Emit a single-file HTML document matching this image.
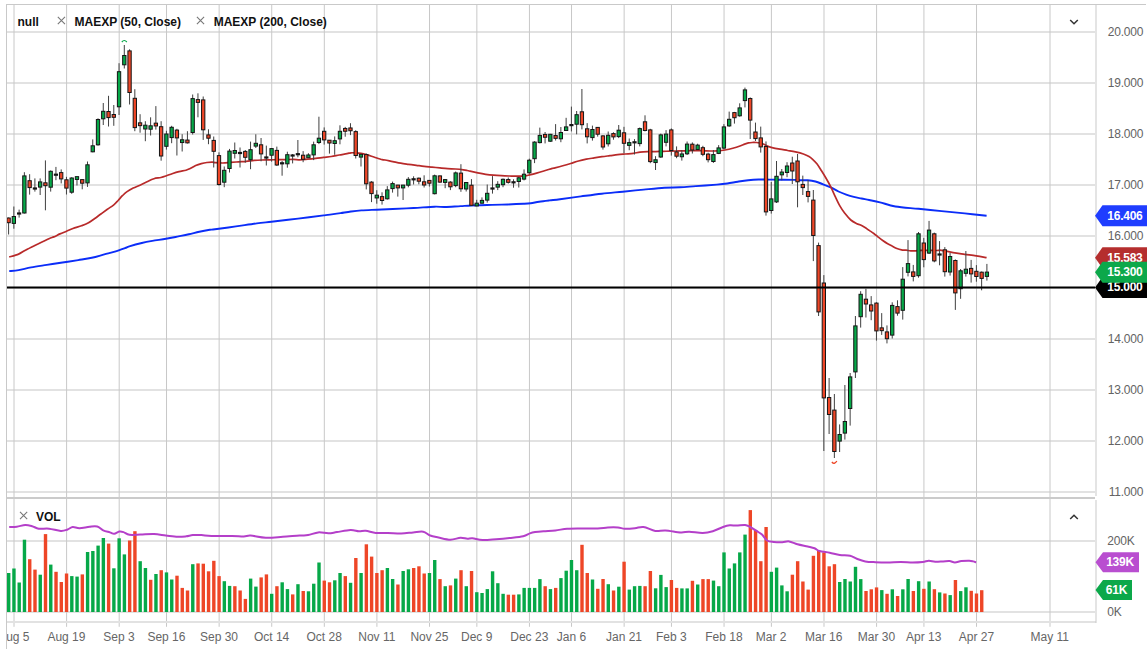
<!DOCTYPE html><html><head><meta charset="utf-8"><style>html,body{margin:0;padding:0;background:#fff;overflow:hidden}svg{display:block}</style></head><body><svg width="1148" height="650" viewBox="0 0 1148 650" shape-rendering="auto"><defs><clipPath id="pc"><rect x="7" y="5" width="1088" height="488"/></clipPath><clipPath id="vc"><rect x="7" y="499" width="1088" height="113"/></clipPath><clipPath id="xc"><rect x="7" y="622" width="1088" height="28"/></clipPath></defs><rect x="7" y="31" width="1088" height="2" fill="#e2e2e2"/><rect x="7" y="82" width="1088" height="2" fill="#e2e2e2"/><rect x="7" y="133" width="1088" height="2" fill="#e2e2e2"/><rect x="7" y="184" width="1088" height="2" fill="#e2e2e2"/><rect x="7" y="235" width="1088" height="2" fill="#e2e2e2"/><rect x="7" y="287" width="1088" height="2" fill="#e2e2e2"/><rect x="7" y="338" width="1088" height="2" fill="#e2e2e2"/><rect x="7" y="389" width="1088" height="2" fill="#e2e2e2"/><rect x="7" y="440" width="1088" height="2" fill="#e2e2e2"/><rect x="7" y="491" width="1088" height="2" fill="#e2e2e2"/><rect x="7" y="540" width="1088" height="2" fill="#e2e2e2"/><rect x="7" y="611" width="1088" height="2" fill="#e2e2e2"/><line x1="14.00" x2="14.00" y1="5" y2="626.8" stroke="#c8c8c8" stroke-width="1"/><line x1="66.60" x2="66.60" y1="5" y2="626.8" stroke="#c8c8c8" stroke-width="1"/><line x1="119.19" x2="119.19" y1="5" y2="626.8" stroke="#c8c8c8" stroke-width="1"/><line x1="166.53" x2="166.53" y1="5" y2="626.8" stroke="#c8c8c8" stroke-width="1"/><line x1="219.13" x2="219.13" y1="5" y2="626.8" stroke="#c8c8c8" stroke-width="1"/><line x1="271.73" x2="271.73" y1="5" y2="626.8" stroke="#c8c8c8" stroke-width="1"/><line x1="324.32" x2="324.32" y1="5" y2="626.8" stroke="#c8c8c8" stroke-width="1"/><line x1="376.92" x2="376.92" y1="5" y2="626.8" stroke="#c8c8c8" stroke-width="1"/><line x1="429.52" x2="429.52" y1="5" y2="626.8" stroke="#c8c8c8" stroke-width="1"/><line x1="476.85" x2="476.85" y1="5" y2="626.8" stroke="#c8c8c8" stroke-width="1"/><line x1="529.45" x2="529.45" y1="5" y2="626.8" stroke="#c8c8c8" stroke-width="1"/><line x1="571.53" x2="571.53" y1="5" y2="626.8" stroke="#c8c8c8" stroke-width="1"/><line x1="624.13" x2="624.13" y1="5" y2="626.8" stroke="#c8c8c8" stroke-width="1"/><line x1="671.46" x2="671.46" y1="5" y2="626.8" stroke="#c8c8c8" stroke-width="1"/><line x1="724.06" x2="724.06" y1="5" y2="626.8" stroke="#c8c8c8" stroke-width="1"/><line x1="771.40" x2="771.40" y1="5" y2="626.8" stroke="#c8c8c8" stroke-width="1"/><line x1="823.99" x2="823.99" y1="5" y2="626.8" stroke="#c8c8c8" stroke-width="1"/><line x1="876.59" x2="876.59" y1="5" y2="626.8" stroke="#c8c8c8" stroke-width="1"/><line x1="923.93" x2="923.93" y1="5" y2="626.8" stroke="#c8c8c8" stroke-width="1"/><line x1="976.53" x2="976.53" y1="5" y2="626.8" stroke="#c8c8c8" stroke-width="1"/><line x1="1050.00" x2="1050.00" y1="5" y2="626.8" stroke="#c8c8c8" stroke-width="1"/><rect x="7" y="497" width="1088" height="2" fill="#cbcbcb"/><rect x="7" y="621" width="1089" height="2" fill="#e2e2e2"/><rect x="6" y="4" width="1140" height="1" fill="#c9c9c9"/><rect x="6" y="4" width="1" height="645" fill="#c9c9c9"/><line x1="1096" x2="1096" y1="5" y2="496" stroke="#c9c9c9" stroke-width="1"/><line x1="1096" x2="1096" y1="500" y2="623" stroke="#c9c9c9" stroke-width="1"/><g clip-path="url(#vc)"><rect x="6.99" y="573.0" width="3.4" height="39.0" fill="#06a848"/><rect x="12.25" y="568.5" width="3.4" height="43.5" fill="#06a848"/><rect x="17.51" y="582.5" width="3.4" height="29.5" fill="#06a848"/><rect x="22.77" y="539.7" width="3.4" height="72.3" fill="#06a848"/><rect x="28.03" y="559.2" width="3.4" height="52.8" fill="#ee4627"/><rect x="33.29" y="569.6" width="3.4" height="42.4" fill="#ee4627"/><rect x="38.55" y="574.7" width="3.4" height="37.3" fill="#06a848"/><rect x="43.81" y="534.1" width="3.4" height="77.9" fill="#ee4627"/><rect x="49.07" y="564.6" width="3.4" height="47.4" fill="#06a848"/><rect x="54.33" y="571.8" width="3.4" height="40.2" fill="#ee4627"/><rect x="59.59" y="582.0" width="3.4" height="30.0" fill="#ee4627"/><rect x="64.85" y="573.5" width="3.4" height="38.5" fill="#ee4627"/><rect x="70.11" y="576.1" width="3.4" height="35.9" fill="#06a848"/><rect x="75.37" y="576.6" width="3.4" height="35.4" fill="#06a848"/><rect x="80.63" y="574.4" width="3.4" height="37.6" fill="#ee4627"/><rect x="85.89" y="552.0" width="3.4" height="60.0" fill="#06a848"/><rect x="91.15" y="551.0" width="3.4" height="61.0" fill="#06a848"/><rect x="96.41" y="545.6" width="3.4" height="66.4" fill="#06a848"/><rect x="101.66" y="538.0" width="3.4" height="74.0" fill="#06a848"/><rect x="106.92" y="543.6" width="3.4" height="68.4" fill="#ee4627"/><rect x="112.18" y="568.3" width="3.4" height="43.7" fill="#06a848"/><rect x="117.44" y="538.3" width="3.4" height="73.7" fill="#06a848"/><rect x="122.70" y="554.4" width="3.4" height="57.6" fill="#06a848"/><rect x="127.96" y="540.5" width="3.4" height="71.5" fill="#ee4627"/><rect x="133.22" y="531.2" width="3.4" height="80.8" fill="#ee4627"/><rect x="138.48" y="561.2" width="3.4" height="50.8" fill="#06a848"/><rect x="143.74" y="568.0" width="3.4" height="44.0" fill="#06a848"/><rect x="149.00" y="579.8" width="3.4" height="32.2" fill="#ee4627"/><rect x="154.26" y="574.0" width="3.4" height="38.0" fill="#06a848"/><rect x="159.52" y="570.2" width="3.4" height="41.8" fill="#ee4627"/><rect x="164.78" y="572.4" width="3.4" height="39.6" fill="#06a848"/><rect x="170.04" y="579.5" width="3.4" height="32.5" fill="#06a848"/><rect x="175.30" y="575.7" width="3.4" height="36.3" fill="#ee4627"/><rect x="180.56" y="587.9" width="3.4" height="24.1" fill="#ee4627"/><rect x="185.82" y="590.5" width="3.4" height="21.5" fill="#ee4627"/><rect x="191.08" y="564.2" width="3.4" height="47.8" fill="#06a848"/><rect x="196.34" y="563.4" width="3.4" height="48.6" fill="#ee4627"/><rect x="201.60" y="563.7" width="3.4" height="48.3" fill="#ee4627"/><rect x="206.86" y="571.3" width="3.4" height="40.7" fill="#ee4627"/><rect x="212.12" y="560.8" width="3.4" height="51.2" fill="#ee4627"/><rect x="217.38" y="576.1" width="3.4" height="35.9" fill="#ee4627"/><rect x="222.64" y="581.2" width="3.4" height="30.8" fill="#06a848"/><rect x="227.90" y="585.9" width="3.4" height="26.1" fill="#06a848"/><rect x="233.16" y="586.2" width="3.4" height="25.8" fill="#ee4627"/><rect x="238.42" y="590.5" width="3.4" height="21.5" fill="#ee4627"/><rect x="243.68" y="598.9" width="3.4" height="13.1" fill="#ee4627"/><rect x="248.94" y="578.6" width="3.4" height="33.4" fill="#06a848"/><rect x="254.20" y="586.6" width="3.4" height="25.4" fill="#06a848"/><rect x="259.46" y="577.4" width="3.4" height="34.6" fill="#ee4627"/><rect x="264.72" y="574.4" width="3.4" height="37.6" fill="#ee4627"/><rect x="269.98" y="593.8" width="3.4" height="18.2" fill="#06a848"/><rect x="275.23" y="586.2" width="3.4" height="25.8" fill="#ee4627"/><rect x="280.49" y="582.3" width="3.4" height="29.7" fill="#06a848"/><rect x="285.75" y="589.1" width="3.4" height="22.9" fill="#06a848"/><rect x="291.01" y="594.4" width="3.4" height="17.6" fill="#ee4627"/><rect x="296.27" y="584.2" width="3.4" height="27.8" fill="#06a848"/><rect x="301.53" y="591.0" width="3.4" height="21.0" fill="#ee4627"/><rect x="306.79" y="591.3" width="3.4" height="20.7" fill="#06a848"/><rect x="312.05" y="583.7" width="3.4" height="28.3" fill="#06a848"/><rect x="317.31" y="562.5" width="3.4" height="49.5" fill="#06a848"/><rect x="322.57" y="580.6" width="3.4" height="31.4" fill="#ee4627"/><rect x="327.83" y="582.3" width="3.4" height="29.7" fill="#ee4627"/><rect x="333.09" y="580.3" width="3.4" height="31.7" fill="#06a848"/><rect x="338.35" y="573.0" width="3.4" height="39.0" fill="#06a848"/><rect x="343.61" y="576.1" width="3.4" height="35.9" fill="#ee4627"/><rect x="348.87" y="582.8" width="3.4" height="29.2" fill="#06a848"/><rect x="354.13" y="558.0" width="3.4" height="54.0" fill="#ee4627"/><rect x="359.39" y="573.0" width="3.4" height="39.0" fill="#06a848"/><rect x="364.65" y="544.3" width="3.4" height="67.7" fill="#ee4627"/><rect x="369.91" y="556.6" width="3.4" height="55.4" fill="#ee4627"/><rect x="375.17" y="573.0" width="3.4" height="39.0" fill="#ee4627"/><rect x="380.43" y="570.2" width="3.4" height="41.8" fill="#ee4627"/><rect x="385.69" y="568.0" width="3.4" height="44.0" fill="#06a848"/><rect x="390.95" y="579.0" width="3.4" height="33.0" fill="#06a848"/><rect x="396.21" y="584.5" width="3.4" height="27.5" fill="#ee4627"/><rect x="401.47" y="571.0" width="3.4" height="41.0" fill="#06a848"/><rect x="406.73" y="569.3" width="3.4" height="42.7" fill="#06a848"/><rect x="411.99" y="568.0" width="3.4" height="44.0" fill="#ee4627"/><rect x="417.25" y="566.3" width="3.4" height="45.7" fill="#ee4627"/><rect x="422.51" y="573.5" width="3.4" height="38.5" fill="#ee4627"/><rect x="427.77" y="573.0" width="3.4" height="39.0" fill="#06a848"/><rect x="433.03" y="560.0" width="3.4" height="52.0" fill="#06a848"/><rect x="438.29" y="579.1" width="3.4" height="32.9" fill="#ee4627"/><rect x="443.55" y="586.2" width="3.4" height="25.8" fill="#06a848"/><rect x="448.81" y="585.4" width="3.4" height="26.6" fill="#ee4627"/><rect x="454.06" y="578.6" width="3.4" height="33.4" fill="#06a848"/><rect x="459.32" y="570.2" width="3.4" height="41.8" fill="#ee4627"/><rect x="464.58" y="586.2" width="3.4" height="25.8" fill="#06a848"/><rect x="469.84" y="571.0" width="3.4" height="41.0" fill="#ee4627"/><rect x="475.10" y="592.2" width="3.4" height="19.8" fill="#06a848"/><rect x="480.36" y="593.0" width="3.4" height="19.0" fill="#06a848"/><rect x="485.62" y="589.1" width="3.4" height="22.9" fill="#06a848"/><rect x="490.88" y="571.3" width="3.4" height="40.7" fill="#06a848"/><rect x="496.14" y="583.2" width="3.4" height="28.8" fill="#06a848"/><rect x="501.40" y="593.8" width="3.4" height="18.2" fill="#06a848"/><rect x="506.66" y="594.7" width="3.4" height="17.3" fill="#ee4627"/><rect x="511.92" y="594.7" width="3.4" height="17.3" fill="#ee4627"/><rect x="517.18" y="594.4" width="3.4" height="17.6" fill="#06a848"/><rect x="522.44" y="587.9" width="3.4" height="24.1" fill="#06a848"/><rect x="527.70" y="587.9" width="3.4" height="24.1" fill="#06a848"/><rect x="532.96" y="587.9" width="3.4" height="24.1" fill="#06a848"/><rect x="538.22" y="579.1" width="3.4" height="32.9" fill="#06a848"/><rect x="543.48" y="586.2" width="3.4" height="25.8" fill="#ee4627"/><rect x="548.74" y="589.1" width="3.4" height="22.9" fill="#06a848"/><rect x="554.00" y="587.9" width="3.4" height="24.1" fill="#ee4627"/><rect x="559.26" y="578.1" width="3.4" height="33.9" fill="#06a848"/><rect x="564.52" y="570.7" width="3.4" height="41.3" fill="#06a848"/><rect x="569.78" y="560.0" width="3.4" height="52.0" fill="#06a848"/><rect x="575.04" y="570.2" width="3.4" height="41.8" fill="#06a848"/><rect x="580.30" y="544.8" width="3.4" height="67.2" fill="#ee4627"/><rect x="585.56" y="573.0" width="3.4" height="39.0" fill="#ee4627"/><rect x="590.82" y="579.5" width="3.4" height="32.5" fill="#06a848"/><rect x="596.08" y="588.8" width="3.4" height="23.2" fill="#ee4627"/><rect x="601.34" y="579.0" width="3.4" height="33.0" fill="#ee4627"/><rect x="606.60" y="584.2" width="3.4" height="27.8" fill="#06a848"/><rect x="611.86" y="590.5" width="3.4" height="21.5" fill="#ee4627"/><rect x="617.12" y="586.7" width="3.4" height="25.3" fill="#06a848"/><rect x="622.38" y="561.7" width="3.4" height="50.3" fill="#ee4627"/><rect x="627.63" y="589.6" width="3.4" height="22.4" fill="#06a848"/><rect x="632.89" y="586.2" width="3.4" height="25.8" fill="#06a848"/><rect x="638.15" y="585.9" width="3.4" height="26.1" fill="#06a848"/><rect x="643.41" y="586.2" width="3.4" height="25.8" fill="#ee4627"/><rect x="648.67" y="571.0" width="3.4" height="41.0" fill="#ee4627"/><rect x="653.93" y="588.3" width="3.4" height="23.7" fill="#06a848"/><rect x="659.19" y="574.9" width="3.4" height="37.1" fill="#06a848"/><rect x="664.45" y="587.1" width="3.4" height="24.9" fill="#06a848"/><rect x="669.71" y="580.0" width="3.4" height="32.0" fill="#ee4627"/><rect x="674.97" y="587.9" width="3.4" height="24.1" fill="#ee4627"/><rect x="680.23" y="588.4" width="3.4" height="23.6" fill="#06a848"/><rect x="685.49" y="588.4" width="3.4" height="23.6" fill="#06a848"/><rect x="690.75" y="580.8" width="3.4" height="31.2" fill="#ee4627"/><rect x="696.01" y="584.5" width="3.4" height="27.5" fill="#06a848"/><rect x="701.27" y="579.1" width="3.4" height="32.9" fill="#ee4627"/><rect x="706.53" y="579.1" width="3.4" height="32.9" fill="#ee4627"/><rect x="711.79" y="580.6" width="3.4" height="31.4" fill="#06a848"/><rect x="717.05" y="586.2" width="3.4" height="25.8" fill="#06a848"/><rect x="722.31" y="552.4" width="3.4" height="59.6" fill="#06a848"/><rect x="727.57" y="568.5" width="3.4" height="43.5" fill="#06a848"/><rect x="732.83" y="563.4" width="3.4" height="48.6" fill="#06a848"/><rect x="738.09" y="552.4" width="3.4" height="59.6" fill="#06a848"/><rect x="743.35" y="534.6" width="3.4" height="77.4" fill="#06a848"/><rect x="748.61" y="510.1" width="3.4" height="101.9" fill="#ee4627"/><rect x="753.87" y="530.0" width="3.4" height="82.0" fill="#ee4627"/><rect x="759.13" y="561.2" width="3.4" height="50.8" fill="#ee4627"/><rect x="764.39" y="527.0" width="3.4" height="85.0" fill="#ee4627"/><rect x="769.65" y="571.8" width="3.4" height="40.2" fill="#06a848"/><rect x="774.91" y="567.6" width="3.4" height="44.4" fill="#06a848"/><rect x="780.17" y="585.4" width="3.4" height="26.6" fill="#06a848"/><rect x="785.43" y="591.3" width="3.4" height="20.7" fill="#06a848"/><rect x="790.69" y="574.7" width="3.4" height="37.3" fill="#ee4627"/><rect x="795.95" y="561.2" width="3.4" height="50.8" fill="#ee4627"/><rect x="801.20" y="581.5" width="3.4" height="30.5" fill="#ee4627"/><rect x="806.46" y="589.6" width="3.4" height="22.4" fill="#ee4627"/><rect x="811.72" y="555.8" width="3.4" height="56.2" fill="#ee4627"/><rect x="816.98" y="551.0" width="3.4" height="61.0" fill="#ee4627"/><rect x="822.24" y="552.4" width="3.4" height="59.6" fill="#ee4627"/><rect x="827.50" y="566.3" width="3.4" height="45.7" fill="#ee4627"/><rect x="832.76" y="564.2" width="3.4" height="47.8" fill="#ee4627"/><rect x="838.02" y="582.0" width="3.4" height="30.0" fill="#06a848"/><rect x="843.28" y="579.0" width="3.4" height="33.0" fill="#06a848"/><rect x="848.54" y="581.5" width="3.4" height="30.5" fill="#06a848"/><rect x="853.80" y="566.8" width="3.4" height="45.2" fill="#06a848"/><rect x="859.06" y="579.1" width="3.4" height="32.9" fill="#06a848"/><rect x="864.32" y="591.0" width="3.4" height="21.0" fill="#ee4627"/><rect x="869.58" y="589.3" width="3.4" height="22.7" fill="#ee4627"/><rect x="874.84" y="587.4" width="3.4" height="24.6" fill="#ee4627"/><rect x="880.10" y="590.1" width="3.4" height="21.9" fill="#06a848"/><rect x="885.36" y="593.8" width="3.4" height="18.2" fill="#ee4627"/><rect x="890.62" y="589.3" width="3.4" height="22.7" fill="#06a848"/><rect x="895.88" y="596.0" width="3.4" height="16.0" fill="#ee4627"/><rect x="901.14" y="589.3" width="3.4" height="22.7" fill="#06a848"/><rect x="906.40" y="579.0" width="3.4" height="33.0" fill="#06a848"/><rect x="911.66" y="591.0" width="3.4" height="21.0" fill="#ee4627"/><rect x="916.92" y="581.2" width="3.4" height="30.8" fill="#06a848"/><rect x="922.18" y="588.8" width="3.4" height="23.2" fill="#ee4627"/><rect x="927.44" y="581.5" width="3.4" height="30.5" fill="#06a848"/><rect x="932.70" y="589.2" width="3.4" height="22.8" fill="#ee4627"/><rect x="937.96" y="592.4" width="3.4" height="19.6" fill="#06a848"/><rect x="943.22" y="593.5" width="3.4" height="18.5" fill="#ee4627"/><rect x="948.48" y="595.1" width="3.4" height="16.9" fill="#06a848"/><rect x="953.74" y="580.0" width="3.4" height="32.0" fill="#ee4627"/><rect x="959.00" y="591.1" width="3.4" height="20.9" fill="#06a848"/><rect x="964.26" y="587.3" width="3.4" height="24.7" fill="#06a848"/><rect x="969.52" y="590.8" width="3.4" height="21.2" fill="#ee4627"/><rect x="974.78" y="593.5" width="3.4" height="18.5" fill="#ee4627"/><rect x="980.03" y="590.2" width="3.4" height="21.8" fill="#ee4627"/><path d="M9.20,527.00 C10.47,526.95 14.12,527.03 16.80,526.70 C19.48,526.37 22.75,525.08 25.30,525.00 C27.85,524.92 29.85,525.58 32.10,526.20 C34.35,526.82 35.98,528.28 38.80,528.70 C41.62,529.12 45.33,528.33 49.00,528.70 C52.67,529.07 57.70,530.77 60.80,530.90 C63.90,531.03 65.62,530.15 67.60,529.50 C69.58,528.85 70.72,527.22 72.70,527.00 C74.68,526.78 76.68,528.25 79.50,528.20 C82.32,528.15 86.65,526.98 89.60,526.70 C92.55,526.42 94.93,525.88 97.20,526.50 C99.47,527.12 101.08,529.42 103.20,530.40 C105.32,531.38 108.07,531.83 109.90,532.40 C111.73,532.97 112.63,533.93 114.20,533.80 C115.77,533.67 117.75,531.88 119.30,531.60 C120.85,531.32 121.80,531.57 123.50,532.10 C125.20,532.63 126.67,534.38 129.50,534.80 C132.33,535.22 136.42,534.72 140.50,534.60 C144.58,534.48 149.78,533.95 154.00,534.10 C158.22,534.25 161.85,535.05 165.80,535.50 C169.75,535.95 174.30,536.67 177.70,536.80 C181.10,536.93 183.67,536.58 186.20,536.30 C188.73,536.02 190.37,535.30 192.90,535.10 C195.43,534.90 198.30,534.95 201.40,535.10 C204.50,535.25 206.42,535.85 211.50,536.00 C216.58,536.15 226.52,535.92 231.90,536.00 C237.28,536.08 240.70,536.57 243.80,536.50 C246.90,536.43 246.83,535.40 250.50,535.60 C254.17,535.80 260.43,537.50 265.80,537.70 C271.17,537.90 277.07,537.17 282.70,536.80 C288.33,536.43 295.37,535.78 299.60,535.50 C303.83,535.22 305.00,535.62 308.10,535.10 C311.20,534.58 314.80,532.70 318.20,532.40 C321.60,532.10 325.38,533.35 328.50,533.30 C331.62,533.25 333.23,532.65 336.90,532.10 C340.57,531.55 346.83,530.15 350.50,530.00 C354.17,529.85 356.37,531.08 358.90,531.20 C361.43,531.32 362.88,530.42 365.70,530.70 C368.52,530.98 372.13,532.53 375.80,532.90 C379.47,533.27 383.47,532.82 387.70,532.90 C391.93,532.98 396.97,533.48 401.20,533.40 C405.43,533.32 409.43,532.68 413.10,532.40 C416.77,532.12 420.37,531.18 423.20,531.70 C426.03,532.22 427.55,534.53 430.10,535.50 C432.65,536.47 435.12,536.80 438.50,537.50 C441.88,538.20 446.73,539.67 450.40,539.70 C454.07,539.73 457.68,537.85 460.50,537.70 C463.32,537.55 465.32,538.72 467.30,538.80 C469.28,538.88 469.87,538.00 472.40,538.20 C474.93,538.40 478.55,539.83 482.50,540.00 C486.45,540.17 491.58,539.53 496.10,539.20 C500.62,538.87 505.08,538.48 509.60,538.00 C514.12,537.52 519.82,537.07 523.20,536.30 C526.58,535.53 527.92,534.10 529.90,533.40 C531.88,532.70 532.83,532.47 535.10,532.10 C537.37,531.73 540.12,531.48 543.50,531.20 C546.88,530.92 551.45,530.82 555.40,530.40 C559.35,529.98 562.97,529.03 567.20,528.70 C571.43,528.37 575.72,528.45 580.80,528.40 C585.88,528.35 593.20,528.55 597.70,528.40 C602.20,528.25 604.42,527.65 607.80,527.50 C611.18,527.35 615.17,527.30 618.00,527.50 C620.83,527.70 621.98,528.58 624.80,528.70 C627.62,528.82 631.78,528.48 634.90,528.20 C638.02,527.92 640.10,526.55 643.50,527.00 C646.90,527.45 651.63,530.33 655.30,530.90 C658.97,531.47 661.27,530.15 665.50,530.40 C669.73,530.65 676.75,532.18 680.70,532.40 C684.65,532.62 685.53,531.62 689.20,531.70 C692.87,531.78 698.77,532.98 702.70,532.90 C706.63,532.82 709.42,532.18 712.80,531.20 C716.18,530.22 720.17,527.98 723.00,527.00 C725.83,526.02 727.55,525.53 729.80,525.30 C732.05,525.07 733.95,525.65 736.50,525.60 C739.05,525.55 742.82,524.77 745.10,525.00 C747.38,525.23 748.23,525.97 750.20,527.00 C752.17,528.03 754.93,529.93 756.90,531.20 C758.87,532.47 760.30,533.05 762.00,534.60 C763.70,536.15 765.13,539.28 767.10,540.50 C769.07,541.72 771.27,541.62 773.80,541.90 C776.33,542.18 779.75,542.28 782.30,542.20 C784.85,542.12 786.57,541.05 789.10,541.40 C791.63,541.75 794.40,543.45 797.50,544.30 C800.60,545.15 804.87,545.85 807.70,546.50 C810.53,547.15 812.53,547.45 814.50,548.20 C816.47,548.95 816.97,550.25 819.50,551.00 C822.03,551.75 826.32,552.05 829.70,552.70 C833.08,553.35 836.40,554.38 839.80,554.90 C843.20,555.42 847.27,555.15 850.10,555.80 C852.93,556.45 854.27,557.87 856.80,558.80 C859.33,559.73 862.18,560.83 865.30,561.40 C868.42,561.97 871.83,562.02 875.50,562.20 C879.17,562.38 883.08,562.53 887.30,562.50 C891.52,562.47 896.57,562.00 900.80,562.00 C905.03,562.00 909.03,562.50 912.70,562.50 C916.37,562.50 920.12,562.28 922.80,562.00 C925.48,561.72 926.73,560.85 928.80,560.80 C930.87,560.75 932.82,561.60 935.20,561.70 C937.58,561.80 940.70,561.50 943.10,561.40 C945.50,561.30 947.63,560.93 949.60,561.10 C951.57,561.27 952.93,562.40 954.90,562.40 C956.87,562.40 959.00,561.38 961.40,561.10 C963.80,560.82 967.33,560.65 969.30,560.70 C971.27,560.75 972.07,561.12 973.20,561.40 C974.33,561.68 975.62,562.23 976.10,562.40" fill="none" stroke="#b43fc9" stroke-width="2" stroke-linejoin="round"/></g><g clip-path="url(#pc)"><path d="M9.20,271.10 C10.77,270.93 14.95,270.72 18.60,270.10 C22.25,269.48 26.40,268.27 31.10,267.40 C35.80,266.53 41.57,265.72 46.80,264.90 C52.03,264.08 57.27,263.30 62.50,262.50 C67.73,261.70 73.32,260.88 78.20,260.10 C83.08,259.32 87.45,258.75 91.80,257.80 C96.15,256.85 100.47,255.43 104.30,254.40 C108.13,253.37 111.35,252.65 114.80,251.60 C118.25,250.55 122.58,248.97 125.00,248.10 C127.42,247.23 126.50,247.25 129.30,246.40 C132.10,245.55 137.97,243.92 141.80,243.00 C145.63,242.08 148.28,241.60 152.30,240.90 C156.32,240.20 161.55,239.55 165.90,238.80 C170.25,238.05 174.58,237.15 178.40,236.40 C182.22,235.65 185.32,235.08 188.80,234.30 C192.28,233.52 195.80,232.45 199.30,231.70 C202.80,230.95 207.18,230.20 209.80,229.80 C212.42,229.40 210.65,229.87 215.00,229.30 C219.35,228.73 228.93,227.38 235.90,226.40 C242.87,225.42 250.88,224.17 256.80,223.40 C262.72,222.63 266.17,222.40 271.40,221.80 C276.63,221.20 281.92,220.57 288.20,219.80 C294.48,219.03 303.18,217.93 309.10,217.20 C315.02,216.47 320.22,215.83 323.70,215.40 C327.18,214.97 327.20,214.98 330.00,214.60 C332.80,214.22 337.02,213.62 340.50,213.10 C343.98,212.58 347.42,211.95 350.90,211.50 C354.38,211.05 357.05,210.70 361.40,210.40 C365.75,210.10 371.78,209.93 377.00,209.70 C382.22,209.47 386.60,209.28 392.70,209.00 C398.80,208.72 406.63,208.38 413.60,208.00 C420.57,207.62 429.27,206.87 434.50,206.70 C439.73,206.53 440.63,207.10 445.00,207.00 C449.37,206.90 455.47,206.38 460.70,206.10 C465.93,205.82 471.18,205.50 476.40,205.30 C481.62,205.10 486.78,205.03 492.00,204.90 C497.22,204.77 502.47,204.68 507.70,204.50 C512.93,204.32 519.57,204.02 523.40,203.80 C527.23,203.58 528.08,203.55 530.70,203.20 C533.32,202.85 535.97,202.17 539.10,201.70 C542.23,201.23 546.02,200.80 549.50,200.40 C552.98,200.00 554.77,199.97 560.00,199.30 C565.23,198.63 573.93,197.33 580.90,196.40 C587.87,195.47 594.83,194.48 601.80,193.70 C608.77,192.92 615.73,192.38 622.70,191.70 C629.67,191.02 636.63,190.27 643.60,189.60 C650.57,188.93 658.43,188.08 664.50,187.70 C670.57,187.32 674.77,187.57 680.00,187.30 C685.23,187.03 689.77,186.55 695.90,186.10 C702.03,185.65 711.57,185.03 716.80,184.60 C722.03,184.17 723.82,183.98 727.30,183.50 C730.78,183.02 734.22,182.25 737.70,181.70 C741.18,181.15 744.72,180.57 748.20,180.20 C751.68,179.83 755.12,179.60 758.60,179.50 C762.08,179.40 765.62,179.57 769.10,179.60 C772.58,179.63 775.18,179.65 779.50,179.70 C783.82,179.75 791.58,179.80 795.00,179.90 C798.42,180.00 797.88,180.23 800.00,180.30 C802.12,180.37 805.13,180.10 807.70,180.30 C810.27,180.50 812.83,180.83 815.40,181.50 C817.97,182.17 820.53,183.32 823.10,184.30 C825.67,185.28 828.23,186.20 830.80,187.40 C833.37,188.60 835.93,190.30 838.50,191.50 C841.07,192.70 843.65,193.70 846.20,194.60 C848.75,195.50 851.25,196.25 853.80,196.90 C856.35,197.55 858.93,197.98 861.50,198.50 C864.07,199.02 866.12,199.37 869.20,200.00 C872.28,200.63 875.63,201.22 880.00,202.30 C884.37,203.38 888.98,205.42 895.40,206.50 C901.82,207.58 910.80,208.03 918.50,208.80 C926.20,209.57 933.90,210.33 941.60,211.10 C949.30,211.87 957.20,212.63 964.70,213.40 C972.20,214.17 982.95,215.32 986.60,215.70" fill="none" stroke="#0b2df8" stroke-width="1.9" stroke-linejoin="round"/><path d="M9.20,257.00 C10.77,256.52 15.82,255.28 18.60,254.10 C21.38,252.92 22.93,251.47 25.90,249.90 C28.87,248.33 32.57,246.57 36.40,244.70 C40.23,242.83 46.00,240.00 48.90,238.70 C51.80,237.40 51.95,237.70 53.80,236.90 C55.65,236.10 57.88,234.85 60.00,233.90 C62.12,232.95 64.35,232.10 66.50,231.20 C68.65,230.30 70.40,229.40 72.90,228.50 C75.40,227.60 78.98,226.70 81.50,225.80 C84.02,224.90 85.85,224.27 88.00,223.10 C90.15,221.93 92.25,220.32 94.40,218.80 C96.55,217.28 98.73,215.58 100.90,214.00 C103.07,212.42 105.25,210.83 107.40,209.30 C109.55,207.77 112.02,206.27 113.80,204.80 C115.58,203.33 116.67,202.02 118.10,200.50 C119.53,198.98 120.97,197.13 122.40,195.70 C123.83,194.27 124.90,193.17 126.70,191.90 C128.50,190.63 130.98,189.22 133.20,188.10 C135.42,186.98 137.70,186.27 140.00,185.20 C142.30,184.13 144.68,182.78 147.00,181.70 C149.32,180.62 151.58,179.40 153.90,178.70 C156.22,178.00 158.80,177.98 160.90,177.50 C163.00,177.02 164.63,176.43 166.50,175.80 C168.37,175.17 170.02,174.40 172.10,173.70 C174.18,173.00 176.68,172.18 179.00,171.60 C181.32,171.02 184.13,170.72 186.00,170.20 C187.87,169.68 188.58,169.28 190.20,168.50 C191.82,167.72 193.85,166.32 195.70,165.50 C197.55,164.68 199.43,164.10 201.30,163.60 C203.17,163.10 205.03,162.73 206.90,162.50 C208.77,162.27 211.15,162.18 212.50,162.20 C213.85,162.22 213.28,162.47 215.00,162.60 C216.72,162.73 220.18,163.03 222.80,163.00 C225.42,162.97 228.08,162.60 230.70,162.40 C233.32,162.20 235.90,161.98 238.50,161.80 C241.10,161.62 243.68,161.53 246.30,161.30 C248.92,161.07 251.58,160.62 254.20,160.40 C256.82,160.18 259.38,160.08 262.00,160.00 C264.62,159.92 267.28,159.97 269.90,159.90 C272.52,159.83 275.10,159.65 277.70,159.60 C280.30,159.55 282.88,159.63 285.50,159.60 C288.12,159.57 290.98,159.37 293.40,159.40 C295.82,159.43 297.60,159.83 300.00,159.80 C302.40,159.77 305.18,159.43 307.80,159.20 C310.42,158.97 313.08,158.70 315.70,158.40 C318.32,158.10 320.90,157.72 323.50,157.40 C326.10,157.08 328.68,156.90 331.30,156.50 C333.92,156.10 336.58,155.47 339.20,155.00 C341.82,154.53 345.05,154.07 347.00,153.70 C348.95,153.33 349.58,152.95 350.90,152.80 C352.22,152.65 353.20,152.72 354.90,152.80 C356.60,152.88 359.02,152.95 361.10,153.30 C363.18,153.65 365.17,154.25 367.40,154.90 C369.63,155.55 372.02,156.42 374.50,157.20 C376.98,157.98 380.55,159.13 382.30,159.60 C384.05,160.07 383.25,159.67 385.00,160.00 C386.75,160.33 390.18,161.07 392.80,161.60 C395.42,162.13 398.08,162.75 400.70,163.20 C403.32,163.65 405.90,163.95 408.50,164.30 C411.10,164.65 413.68,164.97 416.30,165.30 C418.92,165.63 421.58,166.00 424.20,166.30 C426.82,166.60 429.38,166.83 432.00,167.10 C434.62,167.37 437.28,167.65 439.90,167.90 C442.52,168.15 445.10,168.42 447.70,168.60 C450.30,168.78 452.88,168.80 455.50,169.00 C458.12,169.20 461.43,169.55 463.40,169.80 C465.37,170.05 466.20,170.27 467.30,170.50 C468.40,170.73 468.25,170.80 470.00,171.20 C471.75,171.60 475.18,172.38 477.80,172.90 C480.42,173.42 483.08,173.92 485.70,174.30 C488.32,174.68 490.90,174.97 493.50,175.20 C496.10,175.43 498.68,175.57 501.30,175.70 C503.92,175.83 506.58,175.92 509.20,176.00 C511.82,176.08 514.38,176.22 517.00,176.20 C519.62,176.18 522.80,176.12 524.90,175.90 C527.00,175.68 527.65,175.37 529.60,174.90 C531.55,174.43 534.12,173.78 536.60,173.10 C539.08,172.42 541.88,171.58 544.50,170.80 C547.12,170.02 550.55,168.90 552.30,168.40 C554.05,167.90 553.25,168.23 555.00,167.80 C556.75,167.37 560.18,166.52 562.80,165.80 C565.42,165.08 568.08,164.30 570.70,163.50 C573.32,162.70 575.90,161.72 578.50,161.00 C581.10,160.28 583.68,159.72 586.30,159.20 C588.92,158.68 591.58,158.32 594.20,157.90 C596.82,157.48 599.38,157.07 602.00,156.70 C604.62,156.33 607.28,156.03 609.90,155.70 C612.52,155.37 615.10,154.98 617.70,154.70 C620.30,154.42 622.88,154.23 625.50,154.00 C628.12,153.77 630.98,153.60 633.40,153.30 C635.82,153.00 637.60,152.47 640.00,152.20 C642.40,151.93 645.18,151.80 647.80,151.70 C650.42,151.60 653.08,151.67 655.70,151.60 C658.32,151.53 660.90,151.38 663.50,151.30 C666.10,151.22 668.68,151.17 671.30,151.10 C673.92,151.03 676.58,150.95 679.20,150.90 C681.82,150.85 684.38,150.85 687.00,150.80 C689.62,150.75 692.28,150.62 694.90,150.60 C697.52,150.58 700.10,150.63 702.70,150.70 C705.30,150.77 707.88,150.97 710.50,151.00 C713.12,151.03 715.98,151.07 718.40,150.90 C720.82,150.73 722.60,150.45 725.00,150.00 C727.40,149.55 730.18,148.92 732.80,148.20 C735.42,147.48 738.73,146.38 740.70,145.70 C742.67,145.02 743.30,144.57 744.60,144.10 C745.90,143.63 747.20,143.17 748.50,142.90 C749.80,142.63 751.10,142.57 752.40,142.50 C753.70,142.43 754.60,142.30 756.30,142.50 C758.00,142.70 760.77,143.10 762.60,143.70 C764.43,144.30 765.73,145.45 767.30,146.10 C768.87,146.75 769.90,147.08 772.00,147.60 C774.10,148.12 777.28,148.72 779.90,149.20 C782.52,149.68 785.10,150.05 787.70,150.50 C790.30,150.95 792.88,151.32 795.50,151.90 C798.12,152.48 801.15,153.23 803.40,154.00 C805.65,154.77 807.45,155.60 809.00,156.50 C810.55,157.40 811.38,158.18 812.70,159.40 C814.02,160.62 815.43,161.90 816.90,163.80 C818.37,165.70 819.95,168.35 821.50,170.80 C823.05,173.25 824.65,175.82 826.20,178.50 C827.75,181.18 829.27,183.83 830.80,186.90 C832.33,189.97 833.87,193.68 835.40,196.90 C836.93,200.12 838.47,203.50 840.00,206.20 C841.53,208.90 842.80,210.80 844.60,213.10 C846.40,215.40 848.75,218.22 850.80,220.00 C852.85,221.78 855.37,223.00 856.90,223.80 C858.43,224.60 858.72,224.22 860.00,224.80 C861.28,225.38 863.07,226.37 864.60,227.30 C866.13,228.23 867.67,229.37 869.20,230.40 C870.73,231.43 872.25,232.35 873.80,233.50 C875.35,234.65 876.95,236.08 878.50,237.30 C880.05,238.52 881.57,239.72 883.10,240.80 C884.63,241.88 886.17,242.90 887.70,243.80 C889.23,244.70 890.77,245.42 892.30,246.20 C893.83,246.98 895.37,247.90 896.90,248.50 C898.43,249.10 899.95,249.52 901.50,249.80 C903.05,250.08 904.65,250.03 906.20,250.20 C907.75,250.37 909.27,250.70 910.80,250.80 C912.33,250.90 913.62,250.87 915.40,250.80 C917.18,250.73 919.20,250.47 921.50,250.40 C923.80,250.33 926.63,250.38 929.20,250.40 C931.77,250.42 934.83,250.52 936.90,250.50 C938.97,250.48 938.90,249.95 941.60,250.30 C944.30,250.65 949.25,251.93 953.10,252.60 C956.95,253.27 960.85,253.75 964.70,254.30 C968.55,254.85 972.55,255.33 976.20,255.90 C979.85,256.47 984.87,257.40 986.60,257.70" fill="none" stroke="#b82a2a" stroke-width="1.7" stroke-linejoin="round"/><rect x="8.09" y="217.5" width="1" height="17.0" fill="#404040"/><rect x="6.94" y="218.00" width="3.3" height="4.70" fill="#ee4627" stroke="#151515" stroke-width="1"/><rect x="13.35" y="206.5" width="1" height="22.2" fill="#404040"/><rect x="12.20" y="216.50" width="3.3" height="6.90" fill="#06a848" stroke="#151515" stroke-width="1"/><rect x="18.61" y="209.6" width="1" height="8.0" fill="#404040"/><rect x="17.01" y="212.40" width="4.2" height="2.2" fill="#151515"/><rect x="23.87" y="172.2" width="1" height="41.3" fill="#404040"/><rect x="22.72" y="175.90" width="3.3" height="37.10" fill="#06a848" stroke="#151515" stroke-width="1"/><rect x="29.13" y="174.2" width="1" height="20.4" fill="#404040"/><rect x="27.98" y="180.70" width="3.3" height="6.90" fill="#ee4627" stroke="#151515" stroke-width="1"/><rect x="34.39" y="178.4" width="1" height="13.2" fill="#404040"/><rect x="32.79" y="187.40" width="4.2" height="2.2" fill="#151515"/><rect x="39.65" y="178.4" width="1" height="16.6" fill="#404040"/><rect x="38.50" y="181.90" width="3.3" height="5.20" fill="#06a848" stroke="#151515" stroke-width="1"/><rect x="44.91" y="160.4" width="1" height="49.9" fill="#404040"/><rect x="43.76" y="182.80" width="3.3" height="2.90" fill="#ee4627" stroke="#151515" stroke-width="1"/><rect x="50.17" y="170.4" width="1" height="21.2" fill="#404040"/><rect x="49.02" y="171.30" width="3.3" height="15.90" fill="#06a848" stroke="#151515" stroke-width="1"/><rect x="55.43" y="166.9" width="1" height="13.3" fill="#404040"/><rect x="53.83" y="173.60" width="4.2" height="2.2" fill="#151515"/><rect x="60.69" y="169.4" width="1" height="14.0" fill="#404040"/><rect x="59.54" y="172.60" width="3.3" height="6.30" fill="#ee4627" stroke="#151515" stroke-width="1"/><rect x="65.95" y="176.8" width="1" height="17.7" fill="#404040"/><rect x="64.80" y="179.80" width="3.3" height="8.30" fill="#ee4627" stroke="#151515" stroke-width="1"/><rect x="71.21" y="177.2" width="1" height="16.6" fill="#404040"/><rect x="70.06" y="178.00" width="3.3" height="14.20" fill="#06a848" stroke="#151515" stroke-width="1"/><rect x="76.47" y="176.9" width="1" height="8.6" fill="#404040"/><rect x="75.32" y="176.65" width="3.3" height="2.80" fill="#06a848" stroke="#151515" stroke-width="1"/><rect x="81.73" y="179.3" width="1" height="10.0" fill="#404040"/><rect x="80.58" y="179.60" width="3.3" height="3.60" fill="#ee4627" stroke="#151515" stroke-width="1"/><rect x="86.99" y="161.5" width="1" height="25.4" fill="#404040"/><rect x="85.84" y="164.80" width="3.3" height="18.10" fill="#06a848" stroke="#151515" stroke-width="1"/><rect x="92.25" y="139.4" width="1" height="12.9" fill="#404040"/><rect x="91.10" y="145.80" width="3.3" height="6.00" fill="#06a848" stroke="#151515" stroke-width="1"/><rect x="97.51" y="118.3" width="1" height="27.4" fill="#404040"/><rect x="96.36" y="119.50" width="3.3" height="25.30" fill="#06a848" stroke="#151515" stroke-width="1"/><rect x="102.76" y="103.0" width="1" height="22.0" fill="#404040"/><rect x="101.61" y="111.30" width="3.3" height="7.50" fill="#06a848" stroke="#151515" stroke-width="1"/><rect x="108.02" y="95.8" width="1" height="30.7" fill="#404040"/><rect x="106.87" y="111.50" width="3.3" height="6.10" fill="#ee4627" stroke="#151515" stroke-width="1"/><rect x="113.28" y="105.0" width="1" height="20.8" fill="#404040"/><rect x="112.13" y="114.50" width="3.3" height="2.80" fill="#ee4627" stroke="#151515" stroke-width="1"/><rect x="118.54" y="63.2" width="1" height="51.8" fill="#404040"/><rect x="117.39" y="71.70" width="3.3" height="35.10" fill="#06a848" stroke="#151515" stroke-width="1"/><rect x="123.80" y="45.0" width="1" height="23.5" fill="#404040"/><rect x="122.65" y="55.50" width="3.3" height="9.30" fill="#06a848" stroke="#151515" stroke-width="1"/><rect x="129.06" y="49.3" width="1" height="55.2" fill="#404040"/><rect x="127.91" y="50.90" width="3.3" height="41.60" fill="#ee4627" stroke="#151515" stroke-width="1"/><rect x="134.32" y="89.2" width="1" height="42.0" fill="#404040"/><rect x="133.17" y="98.30" width="3.3" height="29.30" fill="#ee4627" stroke="#151515" stroke-width="1"/><rect x="139.58" y="114.2" width="1" height="18.5" fill="#404040"/><rect x="138.43" y="122.85" width="3.3" height="2.80" fill="#ee4627" stroke="#151515" stroke-width="1"/><rect x="144.84" y="121.2" width="1" height="20.0" fill="#404040"/><rect x="143.69" y="125.20" width="3.3" height="3.80" fill="#06a848" stroke="#151515" stroke-width="1"/><rect x="150.10" y="117.3" width="1" height="18.2" fill="#404040"/><rect x="148.95" y="125.80" width="3.3" height="3.40" fill="#06a848" stroke="#151515" stroke-width="1"/><rect x="155.36" y="106.1" width="1" height="23.5" fill="#404040"/><rect x="154.21" y="123.15" width="3.3" height="2.80" fill="#ee4627" stroke="#151515" stroke-width="1"/><rect x="160.62" y="121.2" width="1" height="39.5" fill="#404040"/><rect x="159.47" y="126.70" width="3.3" height="29.30" fill="#ee4627" stroke="#151515" stroke-width="1"/><rect x="165.88" y="130.8" width="1" height="18.8" fill="#404040"/><rect x="164.73" y="134.00" width="3.3" height="12.30" fill="#06a848" stroke="#151515" stroke-width="1"/><rect x="171.14" y="125.8" width="1" height="17.4" fill="#404040"/><rect x="169.99" y="127.30" width="3.3" height="10.30" fill="#06a848" stroke="#151515" stroke-width="1"/><rect x="176.40" y="128.8" width="1" height="26.7" fill="#404040"/><rect x="175.25" y="130.10" width="3.3" height="7.80" fill="#ee4627" stroke="#151515" stroke-width="1"/><rect x="181.66" y="134.2" width="1" height="17.3" fill="#404040"/><rect x="180.51" y="139.75" width="3.3" height="2.80" fill="#06a848" stroke="#151515" stroke-width="1"/><rect x="186.92" y="131.2" width="1" height="12.3" fill="#404040"/><rect x="185.77" y="140.05" width="3.3" height="2.80" fill="#ee4627" stroke="#151515" stroke-width="1"/><rect x="192.18" y="94.5" width="1" height="40.0" fill="#404040"/><rect x="191.03" y="98.60" width="3.3" height="33.90" fill="#06a848" stroke="#151515" stroke-width="1"/><rect x="197.44" y="93.3" width="1" height="24.0" fill="#404040"/><rect x="196.29" y="99.60" width="3.3" height="2.80" fill="#ee4627" stroke="#151515" stroke-width="1"/><rect x="202.70" y="96.5" width="1" height="43.4" fill="#404040"/><rect x="201.55" y="99.90" width="3.3" height="29.90" fill="#ee4627" stroke="#151515" stroke-width="1"/><rect x="207.96" y="129.3" width="1" height="14.9" fill="#404040"/><rect x="206.81" y="134.90" width="3.3" height="3.30" fill="#ee4627" stroke="#151515" stroke-width="1"/><rect x="213.22" y="136.5" width="1" height="31.0" fill="#404040"/><rect x="212.07" y="140.40" width="3.3" height="10.90" fill="#ee4627" stroke="#151515" stroke-width="1"/><rect x="218.48" y="152.3" width="1" height="33.3" fill="#404040"/><rect x="217.33" y="155.60" width="3.3" height="28.90" fill="#ee4627" stroke="#151515" stroke-width="1"/><rect x="223.74" y="166.5" width="1" height="20.7" fill="#404040"/><rect x="222.59" y="170.30" width="3.3" height="11.90" fill="#06a848" stroke="#151515" stroke-width="1"/><rect x="229.00" y="148.9" width="1" height="23.6" fill="#404040"/><rect x="227.85" y="151.10" width="3.3" height="17.40" fill="#06a848" stroke="#151515" stroke-width="1"/><rect x="234.26" y="142.5" width="1" height="16.0" fill="#404040"/><rect x="233.11" y="150.50" width="3.3" height="2.80" fill="#06a848" stroke="#151515" stroke-width="1"/><rect x="239.52" y="147.5" width="1" height="20.0" fill="#404040"/><rect x="237.92" y="151.90" width="4.2" height="2.2" fill="#151515"/><rect x="244.78" y="150.0" width="1" height="12.7" fill="#404040"/><rect x="243.63" y="151.40" width="3.3" height="5.90" fill="#ee4627" stroke="#151515" stroke-width="1"/><rect x="250.04" y="141.6" width="1" height="27.6" fill="#404040"/><rect x="248.89" y="149.70" width="3.3" height="10.00" fill="#06a848" stroke="#151515" stroke-width="1"/><rect x="255.30" y="134.3" width="1" height="13.7" fill="#404040"/><rect x="254.15" y="143.30" width="3.3" height="2.80" fill="#06a848" stroke="#151515" stroke-width="1"/><rect x="260.56" y="138.0" width="1" height="23.3" fill="#404040"/><rect x="259.41" y="144.80" width="3.3" height="9.10" fill="#ee4627" stroke="#151515" stroke-width="1"/><rect x="265.82" y="145.6" width="1" height="19.9" fill="#404040"/><rect x="264.22" y="156.40" width="4.2" height="2.2" fill="#151515"/><rect x="271.08" y="148.0" width="1" height="13.6" fill="#404040"/><rect x="269.93" y="148.60" width="3.3" height="6.60" fill="#06a848" stroke="#151515" stroke-width="1"/><rect x="276.33" y="146.6" width="1" height="19.3" fill="#404040"/><rect x="275.19" y="150.40" width="3.3" height="14.60" fill="#ee4627" stroke="#151515" stroke-width="1"/><rect x="281.59" y="161.0" width="1" height="14.7" fill="#404040"/><rect x="279.99" y="162.20" width="4.2" height="2.2" fill="#151515"/><rect x="286.85" y="151.7" width="1" height="16.0" fill="#404040"/><rect x="285.70" y="154.70" width="3.3" height="9.10" fill="#06a848" stroke="#151515" stroke-width="1"/><rect x="292.11" y="154.0" width="1" height="9.4" fill="#404040"/><rect x="290.51" y="154.40" width="4.2" height="2.2" fill="#151515"/><rect x="297.37" y="140.0" width="1" height="17.3" fill="#404040"/><rect x="295.77" y="153.10" width="4.2" height="2.2" fill="#151515"/><rect x="302.63" y="151.1" width="1" height="11.1" fill="#404040"/><rect x="301.48" y="155.20" width="3.3" height="4.10" fill="#ee4627" stroke="#151515" stroke-width="1"/><rect x="307.89" y="153.2" width="1" height="4.7" fill="#404040"/><rect x="306.74" y="154.95" width="3.3" height="2.80" fill="#06a848" stroke="#151515" stroke-width="1"/><rect x="313.15" y="141.6" width="1" height="18.5" fill="#404040"/><rect x="312.00" y="144.80" width="3.3" height="10.10" fill="#06a848" stroke="#151515" stroke-width="1"/><rect x="318.41" y="116.7" width="1" height="27.4" fill="#404040"/><rect x="317.26" y="138.20" width="3.3" height="4.30" fill="#06a848" stroke="#151515" stroke-width="1"/><rect x="323.67" y="127.4" width="1" height="17.2" fill="#404040"/><rect x="322.52" y="131.30" width="3.3" height="8.60" fill="#ee4627" stroke="#151515" stroke-width="1"/><rect x="328.93" y="140.0" width="1" height="13.6" fill="#404040"/><rect x="327.78" y="140.20" width="3.3" height="2.80" fill="#ee4627" stroke="#151515" stroke-width="1"/><rect x="334.19" y="136.4" width="1" height="18.4" fill="#404040"/><rect x="333.04" y="140.70" width="3.3" height="2.80" fill="#06a848" stroke="#151515" stroke-width="1"/><rect x="339.45" y="125.3" width="1" height="19.0" fill="#404040"/><rect x="338.30" y="131.30" width="3.3" height="7.60" fill="#06a848" stroke="#151515" stroke-width="1"/><rect x="344.71" y="126.9" width="1" height="9.8" fill="#404040"/><rect x="343.56" y="128.45" width="3.3" height="2.80" fill="#ee4627" stroke="#151515" stroke-width="1"/><rect x="349.97" y="123.2" width="1" height="11.9" fill="#404040"/><rect x="348.82" y="127.95" width="3.3" height="2.80" fill="#ee4627" stroke="#151515" stroke-width="1"/><rect x="355.23" y="130.2" width="1" height="28.3" fill="#404040"/><rect x="354.08" y="131.60" width="3.3" height="23.90" fill="#ee4627" stroke="#151515" stroke-width="1"/><rect x="360.49" y="154.2" width="1" height="12.3" fill="#404040"/><rect x="359.34" y="154.30" width="3.3" height="2.80" fill="#06a848" stroke="#151515" stroke-width="1"/><rect x="365.75" y="153.5" width="1" height="35.9" fill="#404040"/><rect x="364.60" y="154.60" width="3.3" height="29.20" fill="#ee4627" stroke="#151515" stroke-width="1"/><rect x="371.01" y="181.2" width="1" height="20.9" fill="#404040"/><rect x="369.86" y="182.10" width="3.3" height="11.50" fill="#ee4627" stroke="#151515" stroke-width="1"/><rect x="376.27" y="190.2" width="1" height="13.5" fill="#404040"/><rect x="375.12" y="195.15" width="3.3" height="2.80" fill="#06a848" stroke="#151515" stroke-width="1"/><rect x="381.53" y="192.3" width="1" height="12.3" fill="#404040"/><rect x="380.38" y="196.60" width="3.3" height="3.90" fill="#ee4627" stroke="#151515" stroke-width="1"/><rect x="386.79" y="186.1" width="1" height="13.5" fill="#404040"/><rect x="385.64" y="189.90" width="3.3" height="8.90" fill="#06a848" stroke="#151515" stroke-width="1"/><rect x="392.05" y="181.6" width="1" height="11.0" fill="#404040"/><rect x="390.90" y="183.60" width="3.3" height="5.00" fill="#06a848" stroke="#151515" stroke-width="1"/><rect x="397.31" y="184.9" width="1" height="11.7" fill="#404040"/><rect x="396.16" y="185.10" width="3.3" height="2.80" fill="#ee4627" stroke="#151515" stroke-width="1"/><rect x="402.57" y="184.9" width="1" height="15.1" fill="#404040"/><rect x="401.42" y="185.10" width="3.3" height="2.80" fill="#06a848" stroke="#151515" stroke-width="1"/><rect x="407.83" y="177.1" width="1" height="10.2" fill="#404040"/><rect x="406.68" y="179.30" width="3.3" height="5.90" fill="#06a848" stroke="#151515" stroke-width="1"/><rect x="413.09" y="176.3" width="1" height="8.2" fill="#404040"/><rect x="411.49" y="178.20" width="4.2" height="2.2" fill="#151515"/><rect x="418.35" y="177.5" width="1" height="6.8" fill="#404040"/><rect x="417.20" y="178.20" width="3.3" height="3.00" fill="#ee4627" stroke="#151515" stroke-width="1"/><rect x="423.61" y="175.3" width="1" height="12.2" fill="#404040"/><rect x="422.46" y="181.80" width="3.3" height="3.20" fill="#ee4627" stroke="#151515" stroke-width="1"/><rect x="428.87" y="180.2" width="1" height="6.4" fill="#404040"/><rect x="427.72" y="180.40" width="3.3" height="2.80" fill="#ee4627" stroke="#151515" stroke-width="1"/><rect x="434.13" y="174.6" width="1" height="19.8" fill="#404040"/><rect x="432.98" y="175.80" width="3.3" height="17.90" fill="#06a848" stroke="#151515" stroke-width="1"/><rect x="439.39" y="175.5" width="1" height="7.4" fill="#404040"/><rect x="438.24" y="175.90" width="3.3" height="6.20" fill="#ee4627" stroke="#151515" stroke-width="1"/><rect x="444.65" y="179.3" width="1" height="8.9" fill="#404040"/><rect x="443.50" y="179.60" width="3.3" height="2.80" fill="#06a848" stroke="#151515" stroke-width="1"/><rect x="449.91" y="181.2" width="1" height="8.9" fill="#404040"/><rect x="448.76" y="182.10" width="3.3" height="4.70" fill="#ee4627" stroke="#151515" stroke-width="1"/><rect x="455.16" y="171.5" width="1" height="15.7" fill="#404040"/><rect x="454.01" y="172.90" width="3.3" height="12.70" fill="#06a848" stroke="#151515" stroke-width="1"/><rect x="460.42" y="164.2" width="1" height="27.6" fill="#404040"/><rect x="459.27" y="173.10" width="3.3" height="15.70" fill="#ee4627" stroke="#151515" stroke-width="1"/><rect x="465.68" y="182.1" width="1" height="9.4" fill="#404040"/><rect x="464.53" y="182.50" width="3.3" height="6.50" fill="#06a848" stroke="#151515" stroke-width="1"/><rect x="470.94" y="179.1" width="1" height="26.9" fill="#404040"/><rect x="469.79" y="185.20" width="3.3" height="20.10" fill="#ee4627" stroke="#151515" stroke-width="1"/><rect x="476.20" y="199.8" width="1" height="6.4" fill="#404040"/><rect x="475.05" y="203.15" width="3.3" height="2.80" fill="#06a848" stroke="#151515" stroke-width="1"/><rect x="481.46" y="197.4" width="1" height="6.2" fill="#404040"/><rect x="480.31" y="200.40" width="3.3" height="2.80" fill="#06a848" stroke="#151515" stroke-width="1"/><rect x="486.72" y="184.5" width="1" height="18.1" fill="#404040"/><rect x="485.57" y="193.30" width="3.3" height="6.80" fill="#06a848" stroke="#151515" stroke-width="1"/><rect x="491.98" y="176.1" width="1" height="17.5" fill="#404040"/><rect x="490.38" y="187.40" width="4.2" height="2.2" fill="#151515"/><rect x="497.24" y="181.2" width="1" height="8.9" fill="#404040"/><rect x="496.09" y="184.35" width="3.3" height="2.80" fill="#06a848" stroke="#151515" stroke-width="1"/><rect x="502.50" y="178.5" width="1" height="8.7" fill="#404040"/><rect x="501.35" y="179.30" width="3.3" height="5.40" fill="#06a848" stroke="#151515" stroke-width="1"/><rect x="507.76" y="177.5" width="1" height="6.1" fill="#404040"/><rect x="506.61" y="179.55" width="3.3" height="2.80" fill="#ee4627" stroke="#151515" stroke-width="1"/><rect x="513.02" y="179.3" width="1" height="8.4" fill="#404040"/><rect x="511.42" y="181.20" width="4.2" height="2.2" fill="#151515"/><rect x="518.28" y="176.9" width="1" height="10.6" fill="#404040"/><rect x="517.13" y="177.80" width="3.3" height="3.70" fill="#06a848" stroke="#151515" stroke-width="1"/><rect x="523.54" y="169.4" width="1" height="11.0" fill="#404040"/><rect x="522.39" y="174.20" width="3.3" height="4.90" fill="#06a848" stroke="#151515" stroke-width="1"/><rect x="528.80" y="158.7" width="1" height="15.1" fill="#404040"/><rect x="527.65" y="160.20" width="3.3" height="12.60" fill="#06a848" stroke="#151515" stroke-width="1"/><rect x="534.06" y="141.2" width="1" height="21.9" fill="#404040"/><rect x="532.91" y="142.10" width="3.3" height="16.60" fill="#06a848" stroke="#151515" stroke-width="1"/><rect x="539.32" y="127.6" width="1" height="15.8" fill="#404040"/><rect x="538.17" y="135.40" width="3.3" height="7.20" fill="#06a848" stroke="#151515" stroke-width="1"/><rect x="544.58" y="132.0" width="1" height="11.4" fill="#404040"/><rect x="543.43" y="134.45" width="3.3" height="2.80" fill="#ee4627" stroke="#151515" stroke-width="1"/><rect x="549.84" y="133.9" width="1" height="8.0" fill="#404040"/><rect x="548.69" y="134.30" width="3.3" height="6.90" fill="#06a848" stroke="#151515" stroke-width="1"/><rect x="555.10" y="124.1" width="1" height="16.4" fill="#404040"/><rect x="553.95" y="135.55" width="3.3" height="2.80" fill="#ee4627" stroke="#151515" stroke-width="1"/><rect x="560.36" y="127.0" width="1" height="15.2" fill="#404040"/><rect x="559.21" y="132.50" width="3.3" height="6.30" fill="#06a848" stroke="#151515" stroke-width="1"/><rect x="565.62" y="117.8" width="1" height="13.2" fill="#404040"/><rect x="564.47" y="126.90" width="3.3" height="3.60" fill="#06a848" stroke="#151515" stroke-width="1"/><rect x="570.88" y="106.6" width="1" height="24.8" fill="#404040"/><rect x="569.28" y="124.00" width="4.2" height="2.2" fill="#151515"/><rect x="576.14" y="111.0" width="1" height="23.3" fill="#404040"/><rect x="574.99" y="114.70" width="3.3" height="9.50" fill="#06a848" stroke="#151515" stroke-width="1"/><rect x="581.40" y="89.0" width="1" height="40.4" fill="#404040"/><rect x="580.25" y="111.80" width="3.3" height="12.90" fill="#ee4627" stroke="#151515" stroke-width="1"/><rect x="586.66" y="123.1" width="1" height="20.3" fill="#404040"/><rect x="585.51" y="128.80" width="3.3" height="8.00" fill="#ee4627" stroke="#151515" stroke-width="1"/><rect x="591.92" y="125.6" width="1" height="15.0" fill="#404040"/><rect x="590.77" y="129.50" width="3.3" height="8.10" fill="#06a848" stroke="#151515" stroke-width="1"/><rect x="597.18" y="127.0" width="1" height="9.6" fill="#404040"/><rect x="596.03" y="127.40" width="3.3" height="6.80" fill="#ee4627" stroke="#151515" stroke-width="1"/><rect x="602.44" y="135.2" width="1" height="14.4" fill="#404040"/><rect x="601.29" y="135.90" width="3.3" height="11.10" fill="#ee4627" stroke="#151515" stroke-width="1"/><rect x="607.70" y="131.5" width="1" height="15.0" fill="#404040"/><rect x="606.55" y="135.30" width="3.3" height="8.50" fill="#06a848" stroke="#151515" stroke-width="1"/><rect x="612.96" y="132.3" width="1" height="7.4" fill="#404040"/><rect x="611.81" y="133.60" width="3.3" height="3.30" fill="#ee4627" stroke="#151515" stroke-width="1"/><rect x="618.22" y="125.0" width="1" height="13.1" fill="#404040"/><rect x="617.07" y="130.20" width="3.3" height="6.40" fill="#06a848" stroke="#151515" stroke-width="1"/><rect x="623.48" y="126.8" width="1" height="26.4" fill="#404040"/><rect x="622.33" y="132.80" width="3.3" height="10.50" fill="#ee4627" stroke="#151515" stroke-width="1"/><rect x="628.73" y="138.5" width="1" height="11.7" fill="#404040"/><rect x="627.58" y="142.60" width="3.3" height="2.80" fill="#06a848" stroke="#151515" stroke-width="1"/><rect x="633.99" y="139.1" width="1" height="15.4" fill="#404040"/><rect x="632.39" y="141.20" width="4.2" height="2.2" fill="#151515"/><rect x="639.25" y="127.5" width="1" height="18.9" fill="#404040"/><rect x="638.10" y="128.60" width="3.3" height="15.00" fill="#06a848" stroke="#151515" stroke-width="1"/><rect x="644.51" y="115.3" width="1" height="16.1" fill="#404040"/><rect x="643.36" y="121.80" width="3.3" height="8.70" fill="#ee4627" stroke="#151515" stroke-width="1"/><rect x="649.77" y="128.8" width="1" height="34.4" fill="#404040"/><rect x="648.62" y="129.90" width="3.3" height="31.70" fill="#ee4627" stroke="#151515" stroke-width="1"/><rect x="655.03" y="156.2" width="1" height="13.8" fill="#404040"/><rect x="653.88" y="159.75" width="3.3" height="2.80" fill="#06a848" stroke="#151515" stroke-width="1"/><rect x="660.29" y="133.6" width="1" height="24.3" fill="#404040"/><rect x="659.14" y="134.90" width="3.3" height="22.10" fill="#06a848" stroke="#151515" stroke-width="1"/><rect x="665.55" y="130.1" width="1" height="16.3" fill="#404040"/><rect x="664.40" y="134.10" width="3.3" height="8.20" fill="#06a848" stroke="#151515" stroke-width="1"/><rect x="670.81" y="128.4" width="1" height="27.2" fill="#404040"/><rect x="669.66" y="129.90" width="3.3" height="20.60" fill="#ee4627" stroke="#151515" stroke-width="1"/><rect x="676.07" y="146.4" width="1" height="11.8" fill="#404040"/><rect x="674.92" y="151.90" width="3.3" height="4.30" fill="#ee4627" stroke="#151515" stroke-width="1"/><rect x="681.33" y="150.1" width="1" height="10.5" fill="#404040"/><rect x="680.18" y="153.95" width="3.3" height="2.80" fill="#06a848" stroke="#151515" stroke-width="1"/><rect x="686.59" y="141.5" width="1" height="13.5" fill="#404040"/><rect x="685.44" y="144.10" width="3.3" height="9.70" fill="#06a848" stroke="#151515" stroke-width="1"/><rect x="691.85" y="142.4" width="1" height="11.1" fill="#404040"/><rect x="690.70" y="144.20" width="3.3" height="5.80" fill="#ee4627" stroke="#151515" stroke-width="1"/><rect x="697.11" y="143.7" width="1" height="6.3" fill="#404040"/><rect x="695.96" y="145.10" width="3.3" height="4.50" fill="#06a848" stroke="#151515" stroke-width="1"/><rect x="702.37" y="145.8" width="1" height="10.4" fill="#404040"/><rect x="701.22" y="147.70" width="3.3" height="6.60" fill="#ee4627" stroke="#151515" stroke-width="1"/><rect x="707.63" y="152.7" width="1" height="9.7" fill="#404040"/><rect x="706.48" y="154.10" width="3.3" height="5.60" fill="#ee4627" stroke="#151515" stroke-width="1"/><rect x="712.89" y="150.0" width="1" height="12.9" fill="#404040"/><rect x="711.74" y="154.60" width="3.3" height="6.90" fill="#06a848" stroke="#151515" stroke-width="1"/><rect x="718.15" y="145.1" width="1" height="9.0" fill="#404040"/><rect x="717.00" y="147.90" width="3.3" height="5.50" fill="#06a848" stroke="#151515" stroke-width="1"/><rect x="723.41" y="124.1" width="1" height="25.2" fill="#404040"/><rect x="722.26" y="126.90" width="3.3" height="21.20" fill="#06a848" stroke="#151515" stroke-width="1"/><rect x="728.67" y="111.6" width="1" height="15.2" fill="#404040"/><rect x="727.52" y="119.30" width="3.3" height="6.60" fill="#06a848" stroke="#151515" stroke-width="1"/><rect x="733.93" y="111.9" width="1" height="11.7" fill="#404040"/><rect x="732.78" y="112.60" width="3.3" height="5.10" fill="#ee4627" stroke="#151515" stroke-width="1"/><rect x="739.19" y="103.3" width="1" height="13.4" fill="#404040"/><rect x="738.04" y="107.90" width="3.3" height="7.90" fill="#06a848" stroke="#151515" stroke-width="1"/><rect x="744.45" y="87.6" width="1" height="19.8" fill="#404040"/><rect x="743.30" y="89.90" width="3.3" height="10.70" fill="#06a848" stroke="#151515" stroke-width="1"/><rect x="749.71" y="97.4" width="1" height="41.6" fill="#404040"/><rect x="748.56" y="98.50" width="3.3" height="21.60" fill="#ee4627" stroke="#151515" stroke-width="1"/><rect x="754.97" y="122.6" width="1" height="18.4" fill="#404040"/><rect x="753.82" y="132.00" width="3.3" height="6.60" fill="#ee4627" stroke="#151515" stroke-width="1"/><rect x="760.23" y="126.6" width="1" height="26.0" fill="#404040"/><rect x="759.08" y="137.90" width="3.3" height="9.00" fill="#ee4627" stroke="#151515" stroke-width="1"/><rect x="765.49" y="141.4" width="1" height="74.2" fill="#404040"/><rect x="764.34" y="146.50" width="3.3" height="65.40" fill="#ee4627" stroke="#151515" stroke-width="1"/><rect x="770.75" y="182.0" width="1" height="31.6" fill="#404040"/><rect x="769.60" y="198.90" width="3.3" height="11.60" fill="#06a848" stroke="#151515" stroke-width="1"/><rect x="776.01" y="161.0" width="1" height="42.0" fill="#404040"/><rect x="774.86" y="176.30" width="3.3" height="25.60" fill="#06a848" stroke="#151515" stroke-width="1"/><rect x="781.27" y="169.0" width="1" height="11.3" fill="#404040"/><rect x="780.12" y="172.05" width="3.3" height="2.80" fill="#06a848" stroke="#151515" stroke-width="1"/><rect x="786.53" y="162.2" width="1" height="15.0" fill="#404040"/><rect x="785.38" y="166.00" width="3.3" height="6.50" fill="#06a848" stroke="#151515" stroke-width="1"/><rect x="791.79" y="156.7" width="1" height="27.3" fill="#404040"/><rect x="790.64" y="163.00" width="3.3" height="8.00" fill="#ee4627" stroke="#151515" stroke-width="1"/><rect x="797.05" y="154.0" width="1" height="53.3" fill="#404040"/><rect x="795.90" y="161.00" width="3.3" height="20.80" fill="#ee4627" stroke="#151515" stroke-width="1"/><rect x="802.30" y="175.6" width="1" height="19.4" fill="#404040"/><rect x="801.15" y="184.40" width="3.3" height="3.20" fill="#ee4627" stroke="#151515" stroke-width="1"/><rect x="807.56" y="180.0" width="1" height="22.4" fill="#404040"/><rect x="806.41" y="191.60" width="3.3" height="4.80" fill="#ee4627" stroke="#151515" stroke-width="1"/><rect x="812.82" y="190.0" width="1" height="71.1" fill="#404040"/><rect x="811.67" y="200.10" width="3.3" height="35.40" fill="#ee4627" stroke="#151515" stroke-width="1"/><rect x="818.08" y="242.6" width="1" height="73.4" fill="#404040"/><rect x="816.93" y="245.60" width="3.3" height="66.30" fill="#ee4627" stroke="#151515" stroke-width="1"/><rect x="823.34" y="275.1" width="1" height="175.9" fill="#404040"/><rect x="822.19" y="283.00" width="3.3" height="114.90" fill="#ee4627" stroke="#151515" stroke-width="1"/><rect x="828.60" y="378.0" width="1" height="56.0" fill="#404040"/><rect x="827.45" y="397.50" width="3.3" height="17.00" fill="#ee4627" stroke="#151515" stroke-width="1"/><rect x="833.86" y="394.0" width="1" height="64.0" fill="#404040"/><rect x="832.71" y="410.10" width="3.3" height="41.40" fill="#ee4627" stroke="#151515" stroke-width="1"/><rect x="839.12" y="424.4" width="1" height="27.6" fill="#404040"/><rect x="837.97" y="434.50" width="3.3" height="6.60" fill="#06a848" stroke="#151515" stroke-width="1"/><rect x="844.38" y="385.0" width="1" height="54.6" fill="#404040"/><rect x="843.23" y="421.50" width="3.3" height="11.60" fill="#06a848" stroke="#151515" stroke-width="1"/><rect x="849.64" y="373.0" width="1" height="52.6" fill="#404040"/><rect x="848.49" y="376.90" width="3.3" height="31.60" fill="#06a848" stroke="#151515" stroke-width="1"/><rect x="854.90" y="316.0" width="1" height="62.0" fill="#404040"/><rect x="853.75" y="325.90" width="3.3" height="46.00" fill="#06a848" stroke="#151515" stroke-width="1"/><rect x="860.16" y="291.2" width="1" height="36.4" fill="#404040"/><rect x="859.01" y="294.30" width="3.3" height="22.40" fill="#06a848" stroke="#151515" stroke-width="1"/><rect x="865.42" y="288.8" width="1" height="28.7" fill="#404040"/><rect x="864.27" y="299.20" width="3.3" height="4.80" fill="#ee4627" stroke="#151515" stroke-width="1"/><rect x="870.68" y="296.1" width="1" height="24.1" fill="#404040"/><rect x="869.53" y="304.90" width="3.3" height="6.10" fill="#ee4627" stroke="#151515" stroke-width="1"/><rect x="875.94" y="302.3" width="1" height="38.3" fill="#404040"/><rect x="874.79" y="303.10" width="3.3" height="27.80" fill="#ee4627" stroke="#151515" stroke-width="1"/><rect x="881.20" y="313.1" width="1" height="21.8" fill="#404040"/><rect x="880.05" y="327.85" width="3.3" height="2.80" fill="#ee4627" stroke="#151515" stroke-width="1"/><rect x="886.46" y="325.4" width="1" height="18.0" fill="#404040"/><rect x="885.31" y="331.90" width="3.3" height="6.80" fill="#ee4627" stroke="#151515" stroke-width="1"/><rect x="891.72" y="302.3" width="1" height="36.2" fill="#404040"/><rect x="890.57" y="305.40" width="3.3" height="29.70" fill="#06a848" stroke="#151515" stroke-width="1"/><rect x="896.98" y="300.3" width="1" height="15.4" fill="#404040"/><rect x="895.83" y="306.60" width="3.3" height="6.50" fill="#ee4627" stroke="#151515" stroke-width="1"/><rect x="902.24" y="267.1" width="1" height="52.5" fill="#404040"/><rect x="901.09" y="279.20" width="3.3" height="31.10" fill="#06a848" stroke="#151515" stroke-width="1"/><rect x="907.50" y="240.1" width="1" height="36.3" fill="#404040"/><rect x="906.35" y="263.60" width="3.3" height="8.70" fill="#06a848" stroke="#151515" stroke-width="1"/><rect x="912.76" y="264.9" width="1" height="16.5" fill="#404040"/><rect x="911.61" y="271.90" width="3.3" height="4.50" fill="#ee4627" stroke="#151515" stroke-width="1"/><rect x="918.02" y="232.0" width="1" height="45.7" fill="#404040"/><rect x="916.87" y="233.80" width="3.3" height="41.90" fill="#06a848" stroke="#151515" stroke-width="1"/><rect x="923.28" y="237.9" width="1" height="29.4" fill="#404040"/><rect x="922.13" y="243.00" width="3.3" height="16.60" fill="#ee4627" stroke="#151515" stroke-width="1"/><rect x="928.54" y="220.9" width="1" height="33.1" fill="#404040"/><rect x="927.39" y="230.10" width="3.3" height="23.00" fill="#06a848" stroke="#151515" stroke-width="1"/><rect x="933.80" y="232.6" width="1" height="29.7" fill="#404040"/><rect x="932.65" y="233.80" width="3.3" height="27.10" fill="#ee4627" stroke="#151515" stroke-width="1"/><rect x="939.06" y="241.1" width="1" height="24.2" fill="#404040"/><rect x="937.46" y="253.40" width="4.2" height="2.2" fill="#151515"/><rect x="944.32" y="247.1" width="1" height="29.5" fill="#404040"/><rect x="943.17" y="249.80" width="3.3" height="21.90" fill="#ee4627" stroke="#151515" stroke-width="1"/><rect x="949.58" y="253.0" width="1" height="22.6" fill="#404040"/><rect x="948.43" y="256.50" width="3.3" height="15.50" fill="#06a848" stroke="#151515" stroke-width="1"/><rect x="954.84" y="259.4" width="1" height="50.5" fill="#404040"/><rect x="953.69" y="260.50" width="3.3" height="32.40" fill="#ee4627" stroke="#151515" stroke-width="1"/><rect x="960.10" y="269.0" width="1" height="29.8" fill="#404040"/><rect x="958.95" y="270.80" width="3.3" height="17.90" fill="#06a848" stroke="#151515" stroke-width="1"/><rect x="965.36" y="251.0" width="1" height="25.6" fill="#404040"/><rect x="964.21" y="269.20" width="3.3" height="4.10" fill="#06a848" stroke="#151515" stroke-width="1"/><rect x="970.62" y="259.9" width="1" height="22.7" fill="#404040"/><rect x="969.47" y="268.40" width="3.3" height="5.50" fill="#ee4627" stroke="#151515" stroke-width="1"/><rect x="975.88" y="265.1" width="1" height="16.6" fill="#404040"/><rect x="974.73" y="271.30" width="3.3" height="5.20" fill="#ee4627" stroke="#151515" stroke-width="1"/><rect x="981.13" y="271.5" width="1" height="18.8" fill="#404040"/><rect x="979.98" y="272.20" width="3.3" height="6.20" fill="#ee4627" stroke="#151515" stroke-width="1"/><rect x="986.39" y="263.9" width="1" height="16.7" fill="#404040"/><rect x="985.24" y="272.10" width="3.3" height="4.30" fill="#06a848" stroke="#151515" stroke-width="1"/><line x1="7" x2="1095" y1="287.4" y2="287.4" stroke="#000" stroke-width="2"/><path d="M121.80,42 Q124.30,39 126.80,42" stroke="#06a848" stroke-width="1.2" fill="none"/><path d="M831.86,462 Q834.36,465 836.86,461" stroke="#ee4627" stroke-width="1.3" fill="none"/></g><text x="1143.3" y="35.8" text-anchor="end" font-family="Liberation Sans, sans-serif" font-size="12" letter-spacing="-0.2" fill="#636363">20.000</text><text x="1143.3" y="86.9" text-anchor="end" font-family="Liberation Sans, sans-serif" font-size="12" letter-spacing="-0.2" fill="#636363">19.000</text><text x="1143.3" y="138.0" text-anchor="end" font-family="Liberation Sans, sans-serif" font-size="12" letter-spacing="-0.2" fill="#636363">18.000</text><text x="1143.3" y="189.1" text-anchor="end" font-family="Liberation Sans, sans-serif" font-size="12" letter-spacing="-0.2" fill="#636363">17.000</text><text x="1143.3" y="240.2" text-anchor="end" font-family="Liberation Sans, sans-serif" font-size="12" letter-spacing="-0.2" fill="#636363">16.000</text><text x="1143.3" y="291.4" text-anchor="end" font-family="Liberation Sans, sans-serif" font-size="12" letter-spacing="-0.2" fill="#636363">15.000</text><text x="1143.3" y="342.5" text-anchor="end" font-family="Liberation Sans, sans-serif" font-size="12" letter-spacing="-0.2" fill="#636363">14.000</text><text x="1143.3" y="393.6" text-anchor="end" font-family="Liberation Sans, sans-serif" font-size="12" letter-spacing="-0.2" fill="#636363">13.000</text><text x="1143.3" y="444.7" text-anchor="end" font-family="Liberation Sans, sans-serif" font-size="12" letter-spacing="-0.2" fill="#636363">12.000</text><text x="1143.3" y="495.8" text-anchor="end" font-family="Liberation Sans, sans-serif" font-size="12" letter-spacing="-0.2" fill="#636363">11.000</text><text x="1107.3" y="544.9" font-family="Liberation Sans, sans-serif" font-size="12" letter-spacing="-0.2" fill="#636363">200K</text><text x="1107.3" y="616.2" font-family="Liberation Sans, sans-serif" font-size="12" letter-spacing="-0.2" fill="#636363">0K</text><g clip-path="url(#xc)"><text x="13.8" y="640.7" text-anchor="middle" font-family="Liberation Sans, sans-serif" font-size="12" fill="#666">Aug 5</text><text x="66.4" y="640.7" text-anchor="middle" font-family="Liberation Sans, sans-serif" font-size="12" fill="#666">Aug 19</text><text x="119.0" y="640.7" text-anchor="middle" font-family="Liberation Sans, sans-serif" font-size="12" fill="#666">Sep 3</text><text x="166.4" y="640.7" text-anchor="middle" font-family="Liberation Sans, sans-serif" font-size="12" fill="#666">Sep 16</text><text x="219.0" y="640.7" text-anchor="middle" font-family="Liberation Sans, sans-serif" font-size="12" fill="#666">Sep 30</text><text x="271.6" y="640.7" text-anchor="middle" font-family="Liberation Sans, sans-serif" font-size="12" fill="#666">Oct 14</text><text x="324.2" y="640.7" text-anchor="middle" font-family="Liberation Sans, sans-serif" font-size="12" fill="#666">Oct 28</text><text x="376.8" y="640.7" text-anchor="middle" font-family="Liberation Sans, sans-serif" font-size="12" fill="#666">Nov 11</text><text x="429.4" y="640.7" text-anchor="middle" font-family="Liberation Sans, sans-serif" font-size="12" fill="#666">Nov 25</text><text x="476.7" y="640.7" text-anchor="middle" font-family="Liberation Sans, sans-serif" font-size="12" fill="#666">Dec 9</text><text x="529.3" y="640.7" text-anchor="middle" font-family="Liberation Sans, sans-serif" font-size="12" fill="#666">Dec 23</text><text x="571.4" y="640.7" text-anchor="middle" font-family="Liberation Sans, sans-serif" font-size="12" fill="#666">Jan 6</text><text x="624.0" y="640.7" text-anchor="middle" font-family="Liberation Sans, sans-serif" font-size="12" fill="#666">Jan 21</text><text x="671.3" y="640.7" text-anchor="middle" font-family="Liberation Sans, sans-serif" font-size="12" fill="#666">Feb 3</text><text x="723.9" y="640.7" text-anchor="middle" font-family="Liberation Sans, sans-serif" font-size="12" fill="#666">Feb 18</text><text x="771.2" y="640.7" text-anchor="middle" font-family="Liberation Sans, sans-serif" font-size="12" fill="#666">Mar 2</text><text x="823.8" y="640.7" text-anchor="middle" font-family="Liberation Sans, sans-serif" font-size="12" fill="#666">Mar 16</text><text x="876.4" y="640.7" text-anchor="middle" font-family="Liberation Sans, sans-serif" font-size="12" fill="#666">Mar 30</text><text x="923.8" y="640.7" text-anchor="middle" font-family="Liberation Sans, sans-serif" font-size="12" fill="#666">Apr 13</text><text x="976.4" y="640.7" text-anchor="middle" font-family="Liberation Sans, sans-serif" font-size="12" fill="#666">Apr 27</text><text x="1049.8" y="640.7" text-anchor="middle" font-family="Liberation Sans, sans-serif" font-size="12" fill="#666">May 11</text></g><path d="M1095,215.7 L1102.5,205.2 L1147,205.2 L1147,226.2 L1102.5,226.2 Z" fill="#1f3dff"/><text x="1142.5" y="219.6" text-anchor="end" font-family="Liberation Sans, sans-serif" font-size="12" font-weight="bold" letter-spacing="-0.25" fill="#fff">16.406</text><path d="M1095,287.6 L1102.5,277.1 L1147,277.1 L1147,298.1 L1102.5,298.1 Z" fill="#000"/><text x="1142.5" y="291.4" text-anchor="end" font-family="Liberation Sans, sans-serif" font-size="12" font-weight="bold" letter-spacing="-0.25" fill="#fff">15.000</text><path d="M1095,257.8 L1102.5,247.3 L1147,247.3 L1147,268.3 L1102.5,268.3 Z" fill="#b52e2e"/><text x="1142.5" y="261.7" text-anchor="end" font-family="Liberation Sans, sans-serif" font-size="12" font-weight="bold" letter-spacing="-0.25" fill="#fff">15.583</text><path d="M1095,272.2 L1102.5,261.7 L1147,261.7 L1147,282.7 L1102.5,282.7 Z" fill="#0ca84a"/><text x="1142.5" y="276.1" text-anchor="end" font-family="Liberation Sans, sans-serif" font-size="12" font-weight="bold" letter-spacing="-0.25" fill="#fff">15.300</text><path d="M1095.5,562.2 L1103,552.2 L1139,552.2 L1139,572.2 L1103,572.2 Z" fill="#b94ed0"/><text x="1120.0" y="565.8" text-anchor="middle" font-family="Liberation Sans, sans-serif" font-size="12" font-weight="bold" letter-spacing="-0.25" fill="#fff">139K</text><path d="M1095.5,590.1 L1103,580.1 L1132,580.1 L1132,600.1 L1103,600.1 Z" fill="#0ca84a"/><text x="1116.5" y="593.7" text-anchor="middle" font-family="Liberation Sans, sans-serif" font-size="12" font-weight="bold" letter-spacing="-0.25" fill="#fff">61K</text><text x="17.5" y="25.6" font-family="Liberation Sans, sans-serif" font-size="12" font-weight="bold" fill="#111">null</text><path d="M57.8,16.9 L65.0,24.1 M65.0,16.9 L57.8,24.1" stroke="#777" stroke-width="1.1" fill="none"/><text x="74.5" y="25.6" font-family="Liberation Sans, sans-serif" font-size="12" font-weight="bold" fill="#111">MAEXP (50, Close)</text><path d="M196.9,16.9 L204.1,24.1 M204.1,16.9 L196.9,24.1" stroke="#777" stroke-width="1.1" fill="none"/><text x="213.7" y="25.6" font-family="Liberation Sans, sans-serif" font-size="12" font-weight="bold" fill="#111">MAEXP (200, Close)</text><path d="M20.0,511.9 L27.200000000000003,519.1 M27.200000000000003,511.9 L20.0,519.1" stroke="#777" stroke-width="1.1" fill="none"/><text x="36" y="520.8" font-family="Liberation Sans, sans-serif" font-size="12" font-weight="bold" fill="#111">VOL</text><path d="M1070.2,20 L1074,23.8 L1077.8,20" stroke="#333" stroke-width="1.5" fill="none"/><path d="M1070.2,519 L1074,515.2 L1077.8,519" stroke="#333" stroke-width="1.5" fill="none"/></svg></body></html>
